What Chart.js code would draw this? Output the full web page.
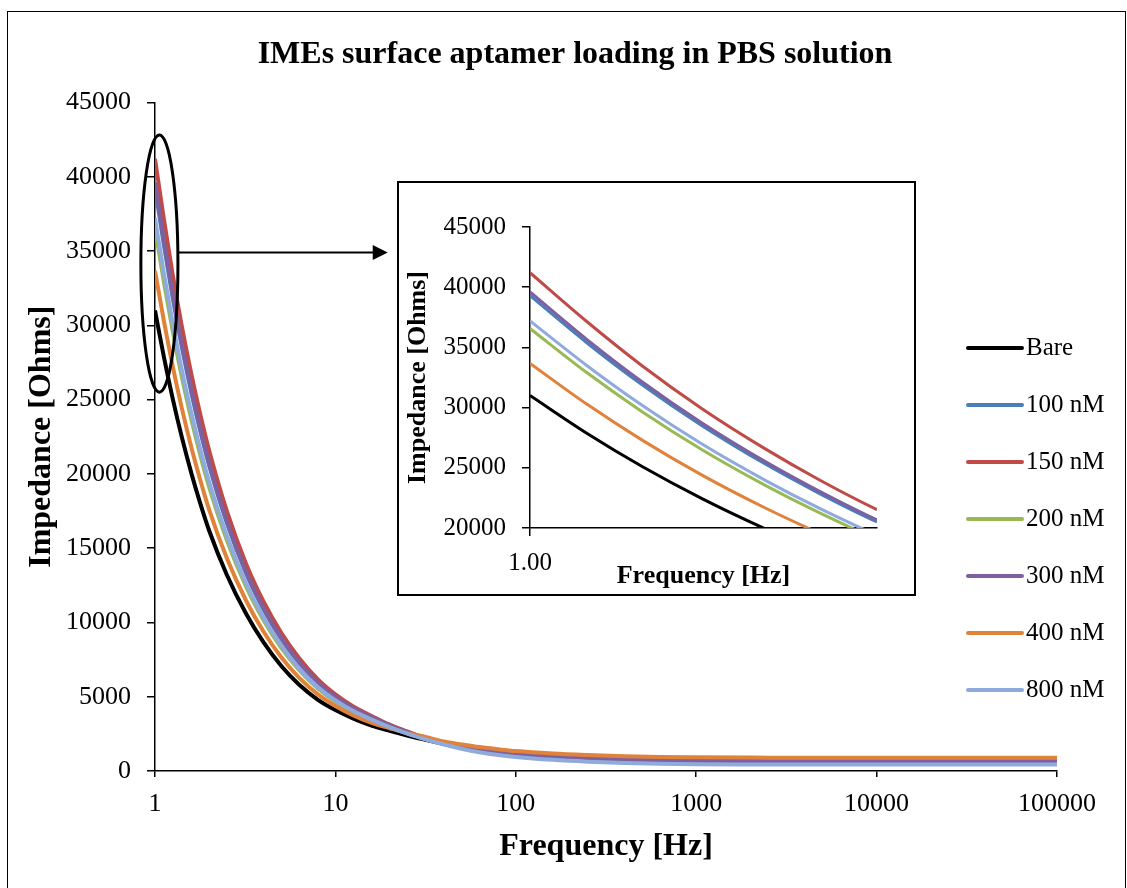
<!DOCTYPE html>
<html>
<head>
<meta charset="utf-8">
<title>IMEs surface aptamer loading in PBS solution</title>
<script src="https://cdn.jsdelivr.net/npm/chart.js@4.4.0/dist/chart.umd.min.js"></script>
<style>
  html, body { margin: 0; padding: 0; background: #fff; }
  body { width: 1127px; height: 888px; position: relative; overflow: hidden; }
  #main { position: absolute; left: 0; top: 0; }
  #insetBox { position: absolute; left: 397px; top: 181px; width: 519px; height: 415px;
              border: 2px solid #000; box-sizing: border-box; background: #fff; }
  #inset { position: absolute; left: 0; top: 0; }
  #frame { position: absolute; left: 7px; top: 11px; width: 1119px; height: 900px;
           border: 1.5px solid #000; box-sizing: border-box; pointer-events: none; }
</style>
</head>
<body>
<canvas id="main" width="1127" height="888"></canvas>
<div id="insetBox"><canvas id="inset" width="515" height="411"></canvas></div>
<div id="frame"></div>

<script>
// frequency sweep [Hz]
const freqs = [1, 1.12, 1.25, 1.41, 1.6, 1.78, 2, 2.5, 3.2, 4, 5, 6.3, 8, 10, 12.5, 16, 20, 25, 32, 40, 50, 63, 80, 100, 160, 250, 400, 630, 1000, 2500, 6300, 16000, 40000, 100000];

// impedance magnitude [Ohms]
const bare  = [31000, 27870, 25130, 22440, 19930, 18030, 16150, 13210, 10580, 8650, 7080, 5800, 4790, 4100, 3545, 3040, 2700, 2390, 2080, 1810, 1560, 1330, 1150, 1010, 820, 700, 610, 555, 525, 505, 500, 498, 497, 495];
const nM100 = [39300, 35390, 31920, 28500, 25310, 22900, 20510, 16700, 13300, 10870, 8900, 7260, 5920, 4960, 4210, 3570, 3050, 2620, 2170, 1860, 1650, 1460, 1300, 1170, 980, 860, 770, 710, 680, 665, 660, 658, 656, 655];
const nM150 = [41200, 37150, 33500, 29910, 26570, 24030, 21530, 17500, 13930, 11390, 9320, 7590, 6170, 5160, 4360, 3690, 3120, 2660, 2200, 1890, 1690, 1500, 1340, 1210, 1030, 920, 850, 800, 770, 750, 745, 740, 738, 735];
const nM200 = [36570, 32910, 29680, 26500, 23540, 21290, 19070, 15550, 12410, 10150, 8300, 6780, 5550, 4680, 4000, 3400, 2940, 2540, 2140, 1830, 1570, 1340, 1160, 1030, 830, 710, 630, 575, 545, 525, 520, 518, 516, 515];
const nM300 = [39600, 35670, 32170, 28720, 25510, 23080, 20670, 16820, 13390, 10950, 8960, 7310, 5950, 4990, 4240, 3590, 3060, 2630, 2180, 1870, 1660, 1470, 1310, 1180, 990, 870, 780, 720, 690, 675, 670, 668, 666, 665];
const nM400 = [33670, 30290, 27320, 24390, 21660, 19600, 17550, 14330, 11460, 9370, 7670, 6270, 5160, 4380, 3760, 3220, 2880, 2560, 2280, 1980, 1790, 1610, 1460, 1340, 1180, 1080, 1000, 950, 920, 900, 895, 890, 888, 885];
const nM800 = [37200, 33500, 30210, 26970, 23960, 21670, 19410, 15830, 12620, 10320, 8450, 6890, 5640, 4750, 4050, 3440, 2950, 2520, 2110, 1780, 1500, 1260, 1070, 940, 750, 630, 545, 485, 450, 440, 435, 433, 432, 430];

const seriesNames  = ['Bare', '100 nM', '150 nM', '200 nM', '300 nM', '400 nM', '800 nM'];
const seriesColors = ['#000000', '#4A7EBB', '#BE4B48', '#98B954', '#7D60A0', '#E0823A', '#8FAADC'];
const seriesValues = [bare, nM100, nM150, nM200, nM300, nM400, nM800];

// tick labels
const freqTicks  = [1, 10, 100, 1000, 10000, 100000];
const impTicks   = [0, 5000, 10000, 15000, 20000, 25000, 30000, 35000, 40000, 45000];
const insetFreqTicks = [1];
const insetImpTicks  = [20000, 25000, 30000, 35000, 40000, 45000];

Chart.defaults.font.family = "'Liberation Serif', 'Times New Roman', serif";
Chart.defaults.color = '#000';

function makeDatasets(width) {
  return seriesNames.map((name, i) => ({
    label: name,
    data: seriesValues[i],
    borderColor: seriesColors[i],
    backgroundColor: seriesColors[i],
    borderWidth: width,
    pointRadius: 0,
    cubicInterpolationMode: 'monotone',
    order: seriesNames.length - i   // first series sits at the back, like Excel
  }));
}

function axisLines(tickLength) {
  return {
    grid: { display: true, drawOnChartArea: false, drawTicks: true, tickLength: tickLength, color: '#000', lineWidth: 1.5 },
    border: { display: true, color: '#000', width: 1.5 }
  };
}

// legend on the right, overlapping the plot area like the original
const sideLegend = {
  id: 'sideLegend',
  afterDraw(chart, args, opts) {
    const ctx = chart.ctx;
    ctx.save();
    ctx.font = opts.font;
    ctx.textBaseline = 'middle';
    ctx.fillStyle = '#000';
    chart.data.datasets.forEach((ds, i) => {
      const y = opts.top + i * opts.spacing;
      ctx.strokeStyle = ds.borderColor;
      ctx.lineWidth = ds.borderWidth;
      ctx.lineCap = 'round';
      ctx.beginPath();
      ctx.moveTo(opts.left, y);
      ctx.lineTo(opts.left + opts.length, y);
      ctx.stroke();
      ctx.fillText(ds.label, opts.left + opts.length + opts.gap, y);
    });
    ctx.restore();
  }
};

// ellipse round the low-frequency end + arrow to the inset
const zoomMarker = {
  id: 'zoomMarker',
  afterDatasetsDraw(chart) {
    const { x, y } = chart.scales;
    const ctx = chart.ctx;
    const l = x.getPixelForValue(0.835), r = x.getPixelForValue(1.34);
    const t = y.getPixelForValue(42800), b = y.getPixelForValue(25500);
    ctx.save();
    ctx.strokeStyle = '#000';
    ctx.lineWidth = 3;
    ctx.beginPath();
    ctx.ellipse((l + r) / 2, (t + b) / 2, (r - l) / 2, (b - t) / 2, 0, 0, Math.PI * 2);
    ctx.stroke();

    const ay = y.getPixelForValue(34900);
    const tip = x.getPixelForValue(19.5);
    ctx.lineWidth = 2;
    ctx.beginPath();
    ctx.moveTo(r, ay);
    ctx.lineTo(tip - 14, ay);
    ctx.stroke();
    ctx.fillStyle = '#000';
    ctx.beginPath();
    ctx.moveTo(tip, ay);
    ctx.lineTo(tip - 15, ay - 7.5);
    ctx.lineTo(tip - 15, ay + 7.5);
    ctx.closePath();
    ctx.fill();
    ctx.restore();
  }
};

new Chart(document.getElementById('main'), {
  type: 'line',
  data: { labels: freqs, datasets: makeDatasets(4) },
  plugins: [zoomMarker, sideLegend],
  options: {
    responsive: false,
    animation: false,
    devicePixelRatio: 1,
    events: [],
    layout: { padding: { left: 23, right: 0, top: 0, bottom: 0 } },
    plugins: {
      legend: { display: false },
      tooltip: { enabled: false },
      title: {
        display: true,
        text: 'IMEs surface aptamer loading in PBS solution',
        font: { size: 32, weight: 'bold' },
        padding: { top: 36, bottom: 28 }
      },
      sideLegend: { left: 968, top: 348, spacing: 57, length: 54, gap: 4,
                    font: "25px 'Liberation Serif', 'Times New Roman', serif" }
    },
    scales: {
      x: {
        type: 'logarithmic',
        min: 1,
        max: 100000,
        afterBuildTicks: s => { s.ticks = freqTicks.map(v => ({ value: v })); },
        afterFit: s => { s.height = 117; },
        ticks: { font: { size: 26 }, padding: 12, maxRotation: 0, autoSkip: false, callback: v => String(v) },
        ...axisLines(6),
        title: { display: true, text: 'Frequency [Hz]', font: { size: 32, weight: 'bold' }, padding: { top: 0, bottom: 22 } }
      },
      y: {
        min: 0,
        max: 45000,
        afterBuildTicks: s => { s.ticks = impTicks.map(v => ({ value: v })); },
        afterFit: s => { s.width = 132; },
        ticks: { font: { size: 26 }, padding: 16, callback: v => String(v) },
        ...axisLines(8),
        title: { display: true, text: 'Impedance [Ohms]', font: { size: 32, weight: 'bold' }, padding: { top: 0, bottom: 0 } }
      },
      // empty right-hand strip that holds the space the legend floats in
      yRight: {
        position: 'right',
        display: true,
        afterFit: s => { s.width = 70; },
        grid: { display: false },
        border: { display: false },
        ticks: { display: false }
      }
    }
  }
});

// inset: zoom on 1-2 Hz
new Chart(document.getElementById('inset'), {
  type: 'line',
  data: { labels: freqs, datasets: makeDatasets(3) },
  options: {
    responsive: false,
    animation: false,
    devicePixelRatio: 1,
    events: [],
    layout: { padding: { left: 0, right: 37, top: 44, bottom: 0 } },
    plugins: { legend: { display: false }, tooltip: { enabled: false } },
    scales: {
      x: {
        type: 'logarithmic',
        min: 1,
        max: 2,
        afterBuildTicks: s => { s.ticks = insetFreqTicks.map(v => ({ value: v })); },
        afterFit: s => { s.height = 66; },
        ticks: { font: { size: 25 }, padding: 12, maxRotation: 0, callback: v => Number(v).toFixed(2) },
        ...axisLines(8),
        title: { display: true, text: 'Frequency [Hz]', font: { size: 26, weight: 'bold' }, padding: { top: 0, bottom: 2 } }
      },
      y: {
        min: 20000,
        max: 45000,
        afterBuildTicks: s => { s.ticks = insetImpTicks.map(v => ({ value: v })); },
        afterFit: s => { s.width = 131; },
        ticks: { font: { size: 25 }, padding: 16, callback: v => String(v) },
        ...axisLines(8),
        title: { display: true, text: 'Impedance [Ohms]', font: { size: 26, weight: 'bold' }, padding: { top: 4, bottom: 0 } }
      }
    }
  }
});
</script>
</body>
</html>
